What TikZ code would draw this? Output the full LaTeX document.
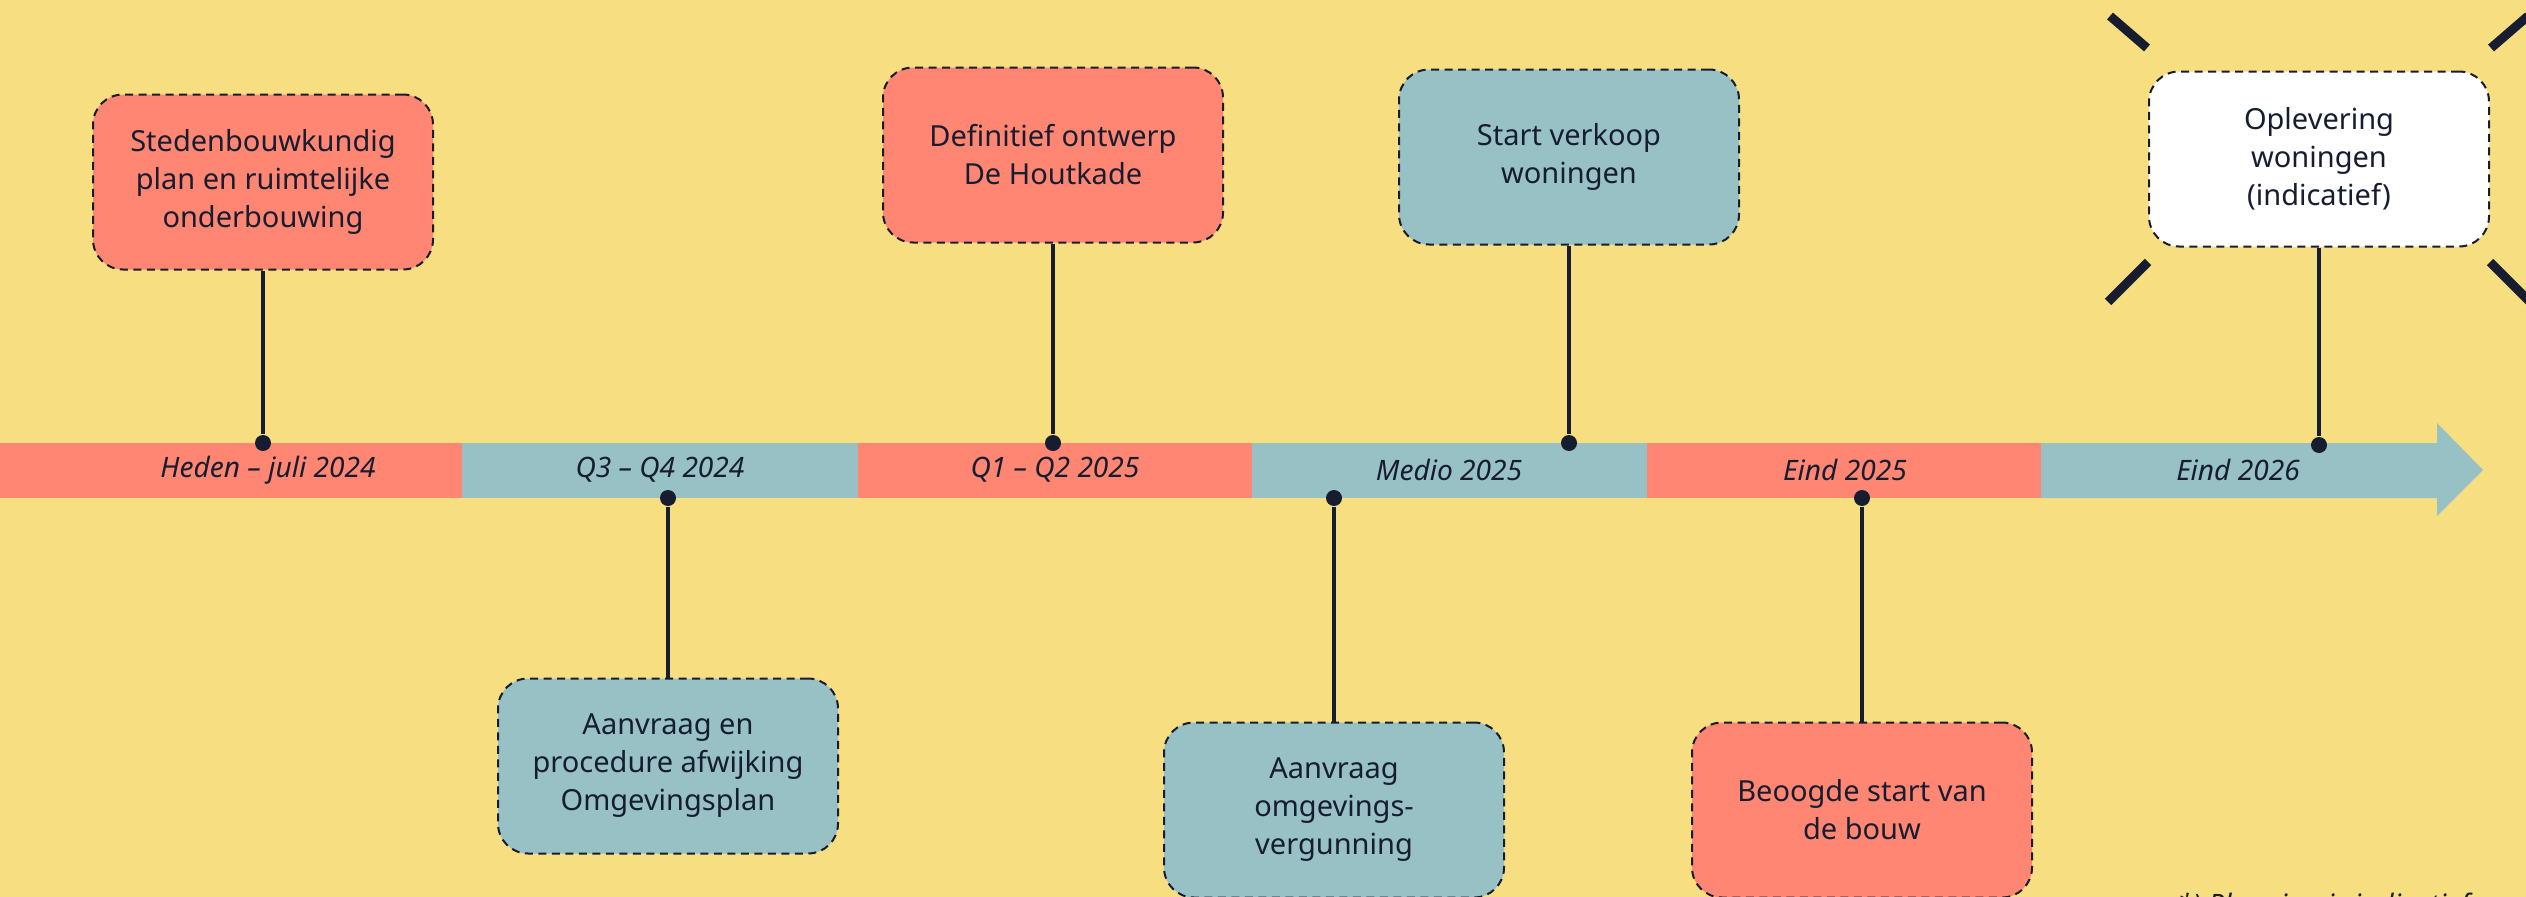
\documentclass[tikz,border=0pt]{standalone}
\usepackage{fontspec}
\setmainfont{Noto Sans}
\usepackage{xcolor}
\usetikzlibrary{positioning}

\definecolor{bgyellow}{HTML}{F7DE80}
\definecolor{salmon}{HTML}{FF8672}
\definecolor{greyblue}{HTML}{98C1C6}
\definecolor{navy}{HTML}{171D31}

\tikzset{
  milestone/.style={draw=navy, dash pattern=on 0.8mm off 0.55mm, line width=0.2mm,
    rounded corners=3mm, minimum width=34mm, minimum height=17.5mm,
    align=center, text=navy, font=\fontsize{8.25}{10.8}\selectfont},
  period/.style={text=navy, font=\itshape\fontsize{8}{10}\selectfont},
  tickdot/.style={circle, fill=navy, inner sep=0pt, minimum size=1.6mm},
  stem/.style={draw=navy, line width=0.4mm},
  ray/.style={draw=navy, line width=0.9mm},
}

\begin{document}
\begin{tikzpicture}[x=0.1mm, y=-0.1mm]
            \fill[bgyellow] (0,0) rectangle (2526,897);
            \useasboundingbox (0,0) rectangle (2526,897);
            % time bar
            \fill[salmon] (0,443) rectangle (462,498);
            \fill[greyblue] (462,443) rectangle (858,498);
            \fill[salmon] (858,443) rectangle (1252,498);
            \fill[greyblue] (1252,443) rectangle (1647,498);
            \fill[salmon] (1647,443) rectangle (2041,498);
            \fill[greyblue] (2041,443) -- (2437,443) -- (2437,423) -- (2483,470)
                -- (2437,516) -- (2437,498) -- (2041,498) -- cycle;
            \node[period] (now_label) at (268,470) {Heden – juli 2024};
            \node[period] (q34_label) at (660,470) {Q3 – Q4 2024};
            \node[period] (q12_label) at (1055,470) {Q1 – Q2 2025};
            \node[period] (mid_label) at (1449,470) {Medio 2025};
            \node[period] (end25_label) at (1845,470) {Eind 2025};
            \node[period] (end26_label) at (2238,470) {Eind 2026};
            % milestones above the bar
            \node[milestone, fill=salmon] (plan_box) at (263,182) {Stedenbouwkundig\\plan en ruimtelijke\\onderbouwing};
            \node[milestone, fill=salmon] (design_box) at (1053,155) {Definitief ontwerp\\De Houtkade};
            \node[milestone, fill=greyblue] (sale_box) at (1569,157) {Start verkoop\\woningen};
            \node[milestone, fill=white] (delivery_box) at (2319,159) {Oplevering\\woningen\\(indicatief)};
            % milestones below the bar
            \node[milestone, fill=greyblue] (procedure_box) at (668,766) {Aanvraag en\\procedure afwijking\\Omgevingsplan};
            \node[milestone, fill=greyblue] (permit_box) at (1334,810) {Aanvraag\\omgevings-\\vergunning};
            \node[milestone, fill=salmon] (build_box) at (1862,810) {Beoogde start van\\de bouw};
            \node[tickdot] (plan_dot) at (263,443) {};
            \node[tickdot] (design_dot) at (1053,443) {};
            \node[tickdot] (sale_dot) at (1569,443) {};
            \node[tickdot] (delivery_dot) at (2319,445) {};
            \node[tickdot] (procedure_dot) at (668,498) {};
            \node[tickdot] (permit_dot) at (1334,498) {};
            \node[tickdot] (build_dot) at (1862,498) {};
            \draw[stem] (plan_box) -- (plan_dot);
            \draw[stem] (design_box) -- (design_dot);
            \draw[stem] (sale_box) -- (sale_dot);
            \draw[stem] (delivery_box) -- (delivery_dot);
            \draw[stem] (procedure_box) -- (procedure_dot);
            \draw[stem] (permit_box) -- (permit_dot);
            \draw[stem] (build_box) -- (build_dot);
            % rays round the last box
            \draw[ray] (2110,16) -- (2147,48);
            \draw[ray] (2528,16) -- (2491,48);
            \draw[ray] (2108,302) -- (2148,262);
            \draw[ray] (2530,302) -- (2490,262);
            \node[period, anchor=base west] (note) at (2165,914) {*) Planning is indicatief};
        \end{tikzpicture}
\end{document}
